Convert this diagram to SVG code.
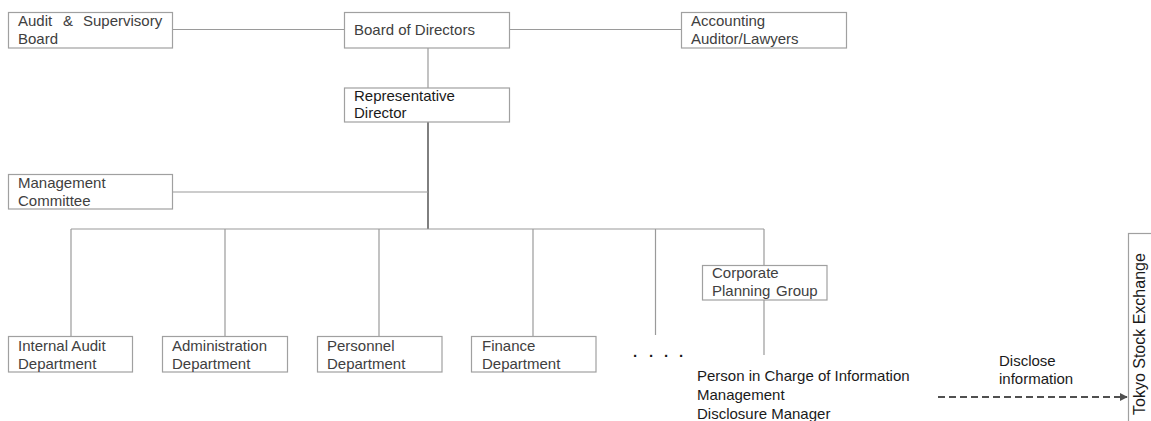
<svg xmlns="http://www.w3.org/2000/svg" width="1151" height="421" viewBox="0 0 1151 421">
<defs>
<style>
.box{fill:#ffffff;stroke:#a0a0a0;stroke-width:1.2}
.ln{stroke:#9a9a9a;stroke-width:1.2;fill:none}
.trunk{stroke:#606060;stroke-width:1.6;fill:none}
.t{font-family:"Liberation Sans",Arial,sans-serif;font-size:15px;fill:#404040}
.dk{fill:#1a1a1a}
</style>
<marker id="ah" viewBox="0 0 10 10" refX="9" refY="5" markerWidth="8" markerHeight="8" orient="auto" markerUnits="userSpaceOnUse">
<path d="M0,0 L10,5 L0,10 z" fill="#505050"/>
</marker>
</defs>
<rect width="1151" height="421" fill="#ffffff"/>
<g id="connectors">
<line class="ln" x1="173" y1="29.5" x2="344" y2="29.5"/>
<line class="ln" x1="510" y1="29.5" x2="681" y2="29.5"/>
<line class="ln" x1="428" y1="48" x2="428" y2="88"/>
<line class="trunk" x1="428" y1="122" x2="428" y2="229"/>
<line class="ln" x1="173" y1="192" x2="428" y2="192"/>
<line class="ln" x1="71" y1="229" x2="764" y2="229"/>
<line class="ln" x1="71" y1="229" x2="71" y2="336"/>
<line class="ln" x1="225" y1="229" x2="225" y2="336"/>
<line class="ln" x1="379" y1="229" x2="379" y2="336"/>
<line class="ln" x1="533" y1="229" x2="533" y2="336"/>
<line class="ln" x1="655.5" y1="229" x2="655.5" y2="335"/>
<line class="ln" x1="764" y1="229" x2="764" y2="265"/>
<line class="ln" x1="764" y1="300" x2="764" y2="355"/>
<line x1="938" y1="397" x2="1127" y2="397" stroke="#505050" stroke-width="1.8" stroke-dasharray="7,4" marker-end="url(#ah)"/>
</g>
<g id="audit-supervisory-board">
<rect class="box" x="8.5" y="12.5" width="164" height="35.5"/>
<text class="t" y="26"><tspan x="18">Audit</tspan><tspan x="63">&amp;</tspan><tspan x="83">Supervisory</tspan></text>
<text class="t" x="18" y="44">Board</text>
</g>
<g id="board-of-directors">
<rect class="box" x="344.5" y="12.5" width="165" height="35.5"/>
<text class="t" x="354" y="35">Board of Directors</text>
</g>
<g id="accounting-auditor">
<rect class="box" x="681.5" y="12.5" width="165" height="35.5"/>
<text class="t" x="691" y="26">Accounting</text>
<text class="t" x="691" y="44">Auditor/Lawyers</text>
</g>
<g id="representative-director">
<rect class="box" x="344.5" y="88" width="165" height="34"/>
<text class="t dk" x="354" y="101">Representative</text>
<text class="t dk" x="354" y="118">Director</text>
</g>
<g id="management-committee">
<rect class="box" x="8.5" y="174.5" width="164" height="34.5"/>
<text class="t" x="18" y="188">Management</text>
<text class="t" x="18" y="206">Committee</text>
</g>
<g id="internal-audit">
<rect class="box" x="8.5" y="336.5" width="124" height="35.5"/>
<text class="t" x="18" y="351">Internal Audit</text>
<text class="t" x="18" y="369">Department</text>
</g>
<g id="administration">
<rect class="box" x="162.5" y="336.5" width="125" height="35.5"/>
<text class="t" x="172" y="351">Administration</text>
<text class="t" x="172" y="369">Department</text>
</g>
<g id="personnel">
<rect class="box" x="317.5" y="336.5" width="124.5" height="35.5"/>
<text class="t" x="327" y="351">Personnel</text>
<text class="t" x="327" y="369">Department</text>
</g>
<g id="finance">
<rect class="box" x="471.5" y="336.5" width="124.5" height="35.5"/>
<text class="t" x="482" y="351">Finance</text>
<text class="t" x="482" y="369">Department</text>
</g>
<g id="ellipsis">
<text class="t dk" x="633 649 664 679" y="357" style="font-weight:bold">....</text>
</g>
<g id="corporate-planning">
<rect class="box" x="702.5" y="265.5" width="124.5" height="34.5"/>
<text class="t" x="712" y="278">Corporate</text>
<text class="t" y="296"><tspan x="712">Planning</tspan><tspan x="776">Group</tspan></text>
</g>
<g id="person-in-charge">
<text class="t dk" x="697" y="381">Person in Charge of Information</text>
<text class="t dk" x="697" y="400">Management</text>
<text class="t dk" x="697" y="419">Disclosure Manager</text>
</g>
<g id="disclose-label">
<text class="t dk" x="999" y="366">Disclose</text>
<text class="t dk" x="999" y="384">information</text>
</g>
<g id="tokyo-stock-exchange">
<rect class="box" x="1128.5" y="233.5" width="40" height="200"/>
<text class="t dk" transform="translate(1145,415) rotate(-90)" x="0" y="0" style="font-size:16px">Tokyo Stock Exchange</text>
</g>
</svg>
